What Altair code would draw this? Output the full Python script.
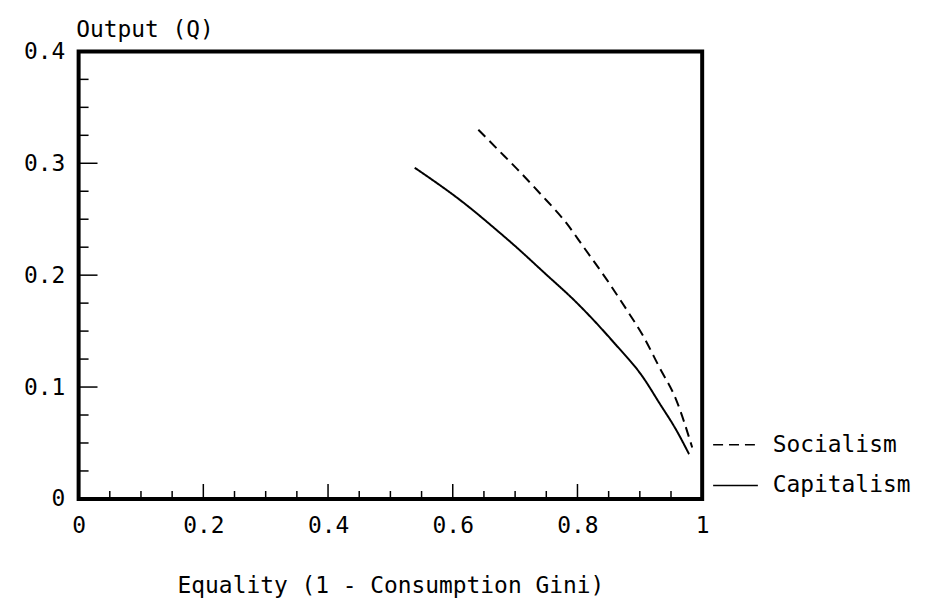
import altair as alt
import pandas as pd

# Capitalism (solid) curve
cap_x = [0.539, 0.619, 0.671, 0.698, 0.751, 0.794, 0.858, 0.906, 0.931, 0.958, 0.979]
cap_y = [0.296, 0.264, 0.240, 0.227, 0.200, 0.178, 0.140, 0.108, 0.086, 0.062, 0.040]

# Socialism (dashed) curve
soc_x = [0.641, 0.671, 0.703, 0.740, 0.783, 0.810, 0.847, 0.879, 0.906, 0.931, 0.958, 0.984]
soc_y = [0.330, 0.313, 0.295, 0.273, 0.246, 0.225, 0.196, 0.169, 0.145, 0.118, 0.089, 0.046]

series_names = ["Socialism", "Capitalism"]

x_tick_labels = [0, 0.2, 0.4, 0.6, 0.8, 1]
y_tick_labels = [0, 0.1, 0.2, 0.3, 0.4]
x_minor = [round(i * 0.05, 3) for i in range(1, 20)]
y_minor = [round(i * 0.025, 3) for i in range(1, 16)]

rows = []
for x, y in zip(soc_x, soc_y):
    rows.append({"series": "Socialism", "x": x, "y": y})
for x, y in zip(cap_x, cap_y):
    rows.append({"series": "Capitalism", "x": x, "y": y})
df = pd.DataFrame(rows)

FONT = "DejaVu Sans Mono"
FS = 23
W, H = 627, 450

xscale = alt.Scale(domain=[0, 1], nice=False, zero=False)
yscale = alt.Scale(domain=[0, 0.4], nice=False, zero=False)

common = dict(format="~g", ticks=False, domain=False, grid=False, labelFlush=False,
              labelFont=FONT, labelFontSize=FS, labelColor="black",
              titleFont=FONT, titleFontSize=FS, titleFontWeight="normal", titleColor="black")

x_axis = alt.Axis(values=x_tick_labels, labelPadding=16,
                  title="Equality (1 - Consumption Gini)",
                  titleY=94, titleBaseline="alphabetic", **common)
y_axis = alt.Axis(values=y_tick_labels, labelPadding=14, title="Output (Q)",
                  titleAngle=0, titleAlign="left", titleX=-3, titleY=-15,
                  titleBaseline="alphabetic", **common)

lines = alt.Chart(df).mark_line(color="black", strokeWidth=2, interpolate="monotone").encode(
    x=alt.X("x:Q", scale=xscale, axis=x_axis),
    y=alt.Y("y:Q", scale=yscale, axis=y_axis),
    strokeDash=alt.StrokeDash(
        "series:N",
        scale=alt.Scale(domain=series_names, range=[[10, 6], [1, 0]]),
        legend=alt.Legend(title=None, orient="none", legendX=637, legendY=372,
                          symbolType="stroke", symbolSize=2025, symbolStrokeWidth=1.6,
                          symbolStrokeColor="black", labelOffset=14, padding=0,
                          rowPadding=5,
                          labelFont=FONT, labelFontSize=FS, labelColor="black"),
    ),
    order="x:Q",
)

xt = pd.DataFrame({"v": x_minor, "major": [abs(v * 5 - round(v * 5)) < 1e-6 for v in x_minor]})
yt = pd.DataFrame({"v": y_minor, "major": [abs(v * 10 - round(v * 10)) < 1e-6 for v in y_minor]})

x_minor_ticks = alt.Chart(xt[~xt.major]).mark_rule(color="black", strokeWidth=1.5).encode(
    x=alt.X("v:Q", scale=xscale, axis=x_axis), y=alt.value(H), y2=alt.value(H - 8))
x_major_ticks = alt.Chart(xt[xt.major]).mark_rule(color="black", strokeWidth=1.5).encode(
    x=alt.X("v:Q", scale=xscale, axis=x_axis), y=alt.value(H), y2=alt.value(H - 15))
y_minor_ticks = alt.Chart(yt[~yt.major]).mark_rule(color="black", strokeWidth=1.5).encode(
    y=alt.Y("v:Q", scale=yscale, axis=y_axis), x=alt.value(0), x2=alt.value(10))
y_major_ticks = alt.Chart(yt[yt.major]).mark_rule(color="black", strokeWidth=1.5).encode(
    y=alt.Y("v:Q", scale=yscale, axis=y_axis), x=alt.value(0), x2=alt.value(19))

chart = alt.layer(x_minor_ticks, x_major_ticks, y_minor_ticks, y_major_ticks, lines).properties(
    width=W, height=H,
    background="white",
    autosize=alt.AutoSizeParams(type="none"),
    padding={"left": 71, "top": 42, "right": 216, "bottom": 100},
).configure_view(
    stroke="black", strokeWidth=4
)

chart.save("out.html", embed_options={"renderer": "svg", "actions": False})
